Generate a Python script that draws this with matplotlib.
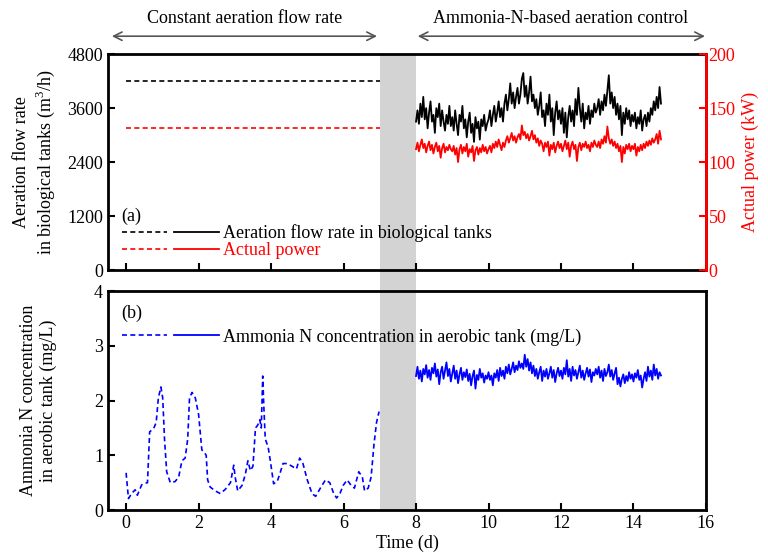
import numpy as np
import matplotlib.pyplot as plt
from matplotlib.legend_handler import HandlerTuple
from matplotlib.lines import Line2D
from matplotlib.patches import Rectangle
import matplotlib.transforms as mtransforms

plt.rcParams['font.family'] = ['Liberation Serif', 'DejaVu Serif']
plt.rcParams['mathtext.fontset'] = 'custom'
plt.rcParams['mathtext.rm'] = 'Liberation Serif'

# constant aeration period (days 0-7)
const_days = [0, 7]
const_flow = [4200, 4200]      # m3/h
const_power = [132, 132]       # kW

# ammonia-N based control period, sampled every 0.04 d from day 8
ctrl_days = np.arange(8, 14.77, 0.04)
ctrl_flow = [
    3300, 3550, 3250, 3700, 3400, 3850, 3350, 3600, 3150, 3500, 3750, 3300, 3450, 3050, 3600, 3400, 3700, 3200, 3550, 3300, 3100, 3450, 3250, 3650, 3200,
    3400, 3100, 3550, 3250, 3000, 3450, 3300, 3650, 3150, 3350, 2950, 3300, 3500, 3050, 3250, 2850, 3400, 3150, 3300, 2900, 3350, 3200, 3450, 3100, 3250,
    3350, 3550, 3200, 3450, 3650, 3300, 3500, 3750, 3400, 3600, 3300, 3700, 3900, 3550, 3800, 4150, 3700, 3950, 3600, 3850, 4050, 3700, 3900, 4250, 4380,
    3850, 4100, 3700, 3950, 4300, 3750, 3900, 3600, 3800, 3450, 3650, 3950, 3400, 3550, 3200, 3700, 3450, 3900, 3300, 3600, 3000, 3500, 3750, 3350, 3550,
    3250, 3600, 3050, 3500, 2950, 3400, 3650, 3300, 3550, 3200, 3800, 3450, 4050, 3600, 3300, 3700, 3150, 3500, 3350, 3650, 3250, 3550, 3400, 3700, 3500,
    3600, 3800, 3450, 3750, 3550, 3900, 3650, 4000, 4330, 3700, 3950, 3600, 3850, 3450, 3700, 3350, 3650, 3000, 3500, 3250, 3600, 3350, 3550, 3200, 3450,
    3300, 3500, 3150, 3400, 3250, 3550, 3100, 3350, 3450, 3200, 3500, 3300, 3600, 3450, 3750, 3550, 3850, 3600, 4070, 3700,
]
ctrl_power = [
    112, 118, 110, 116, 121, 113, 117, 109, 115, 119, 111, 116, 108, 114, 118, 110, 115, 104, 113, 117, 109, 114, 111, 116, 112,
    110, 115, 107, 113, 100, 112, 116, 108, 114, 110, 117, 105, 112, 109, 115, 101, 111, 114, 107, 113, 109, 116, 110, 114, 108,
    112, 115, 109, 117, 113, 119, 114, 121, 116, 111, 118, 114, 120, 124, 118, 122, 127, 120, 124, 118, 123, 126, 121, 134, 125,
    128, 122, 126, 120, 124, 129, 121, 125, 118, 122, 115, 120, 117, 110, 118, 114, 119, 106, 116, 112, 118, 109, 115, 119, 113,
    117, 110, 115, 120, 112, 118, 105, 115, 119, 112, 116, 101, 114, 118, 111, 117, 114, 119, 113, 116, 110, 118, 114, 120, 116,
    114, 119, 113, 121, 117, 124, 118, 133, 122, 117, 121, 115, 119, 113, 117, 110, 115, 100, 114, 108, 116, 112, 117, 110, 115,
    112, 117, 106, 114, 110, 116, 111, 117, 113, 119, 115, 120, 116, 122, 118, 121, 126, 117, 129, 121,
]
ctrl_nh4 = [
    2.45, 2.62, 2.40, 2.55, 2.35, 2.58, 2.48, 2.65, 2.42, 2.56, 2.38, 2.60, 2.50, 2.68, 2.44, 2.57, 2.30, 2.52, 2.62, 2.40, 2.55, 2.70, 2.45, 2.58, 2.35,
    2.50, 2.64, 2.40, 2.55, 2.32, 2.48, 2.60, 2.38, 2.52, 2.43, 2.57, 2.36, 2.49, 2.28, 2.45, 2.55, 2.22, 2.47, 2.38, 2.58, 2.42, 2.50, 2.33, 2.46, 2.40,
    2.52, 2.38, 2.46, 2.28, 2.50, 2.42, 2.56, 2.36, 2.60, 2.45, 2.55, 2.40, 2.62, 2.50, 2.66, 2.48, 2.58, 2.70, 2.52, 2.64, 2.56, 2.72, 2.60, 2.68, 2.58,
    2.84, 2.62, 2.76, 2.55, 2.70, 2.50, 2.64, 2.45, 2.58, 2.40, 2.52, 2.62, 2.36, 2.55, 2.44, 2.58, 2.40, 2.50, 2.62, 2.42, 2.56, 2.34, 2.50, 2.60, 2.45,
    2.55, 2.40, 2.60, 2.48, 2.74, 2.44, 2.58, 2.36, 2.62, 2.46, 2.56, 2.40, 2.52, 2.64, 2.42, 2.55, 2.38, 2.50, 2.60, 2.44, 2.57, 2.34, 2.52, 2.46, 2.58,
    2.48, 2.62, 2.42, 2.55, 2.36, 2.58, 2.45, 2.52, 2.66, 2.44, 2.56, 2.38, 2.50, 2.60, 2.30, 2.42, 2.26, 2.40, 2.48, 2.32, 2.45, 2.36, 2.52, 2.40, 2.48,
    2.35, 2.50, 2.42, 2.56, 2.38, 2.46, 2.24, 2.40, 2.52, 2.36, 2.62, 2.44, 2.55, 2.38, 2.66, 2.46, 2.58, 2.40, 2.52, 2.46,
]

# ammonia N during constant aeration
const_nh4_days = [0.0, 0.065, 0.16, 0.25, 0.31, 0.43, 0.53, 0.59, 0.65, 0.76, 0.83, 0.89, 0.96, 1.01, 1.06,
                  1.12, 1.22, 1.35, 1.45, 1.54, 1.63, 1.70, 1.75, 1.82, 1.91, 2.0, 2.09, 2.16, 2.21, 2.25,
                  2.32, 2.46, 2.6, 2.74, 2.88, 2.97, 3.01, 3.08, 3.2, 3.29, 3.36, 3.43, 3.5, 3.57, 3.63,
                  3.69, 3.73, 3.77, 3.80, 3.84, 3.92, 3.98, 4.07, 4.17, 4.26, 4.33, 4.44, 4.58, 4.70, 4.79,
                  4.88, 5.0, 5.13, 5.23, 5.36, 5.50, 5.62, 5.73, 5.81, 5.90, 5.99, 6.10, 6.21, 6.30, 6.42,
                  6.52, 6.58, 6.68, 6.76, 6.84, 6.91, 6.98]
const_nh4 = [0.68, 0.21, 0.31, 0.37, 0.27, 0.46, 0.49, 0.50, 1.43, 1.49, 1.60, 2.05, 2.25, 2.05, 1.3,
             0.7, 0.5, 0.52, 0.6, 0.9, 0.95, 1.3, 2.05, 2.15, 2.05, 1.75, 1.1, 1.05, 1.0, 0.55,
             0.42, 0.35, 0.3, 0.38, 0.5, 0.82, 0.6, 0.35, 0.45, 0.65, 0.9, 0.72, 0.8, 1.5, 1.55,
             1.65, 1.5, 2.45, 1.9, 1.3, 1.15, 0.9, 0.48, 0.52, 0.7, 0.85, 0.85, 0.8, 0.75, 0.95,
             0.85, 0.55, 0.3, 0.25, 0.4, 0.55, 0.5, 0.3, 0.22, 0.3, 0.45, 0.55, 0.45, 0.4, 0.7,
             0.6, 0.35, 0.4, 0.6, 1.2, 1.6, 1.8]

fs = 13
dash = (3, 2)

fig = plt.figure(figsize=(7.68, 5.58), dpi=100)
ax1 = fig.add_axes([0.1406, 0.516, 0.7786, 0.387])
ax3 = fig.add_axes([0.1406, 0.086, 0.7786, 0.392])
ax2 = ax1.twinx()

# gray band between the two periods, spanning both panels
trans = mtransforms.blended_transform_factory(ax1.transData, fig.transFigure)
fig.patches.append(Rectangle((7, 0.086), 1, 0.817, transform=trans,
                             facecolor='#d3d3d3', edgecolor='none', zorder=-1))
for a in (ax1, ax2, ax3):
    a.set_facecolor('none')

# (a) aeration flow and power
ax1.plot(const_days, const_flow, color='black', lw=1.2, dashes=dash)
ax1.plot(ctrl_days, ctrl_flow, color='black', lw=1.3)
ax2.plot(const_days, const_power, color='red', lw=1.2, dashes=dash)
ax2.plot(ctrl_days, ctrl_power, color='red', lw=1.3)

ax1.set_xlim(-0.5, 16)
ax1.set_ylim(0, 4800)
ax1.set_yticks([0, 1200, 2400, 3600, 4800])
ax1.set_xticks(range(0, 17, 2))
ax1.tick_params(labelbottom=False)
ax2.set_ylim(0, 200)
ax2.set_yticks([0, 50, 100, 150, 200])
ax1.set_ylabel('Aeration flow rate\nin biological tanks (m$^3$/h)', fontsize=fs)
ax1.yaxis.set_label_coords(-0.085, 0.5)
ax2.set_ylabel('Actual power (kW)', fontsize=fs, color='red')
ax2.yaxis.set_label_coords(1.06, 0.5)

for s in ('top', 'bottom', 'left'):
    ax2.spines[s].set_visible(False)
ax2.spines['right'].set_color('red')
ax2.spines['right'].set_linewidth(2)
ax2.tick_params(axis='y', direction='in', colors='red', length=5, width=1.5, labelsize=fs, pad=2)

ax1.text(0.023, 0.25, '(a)', transform=ax1.transAxes, fontsize=fs, va='center')
h1 = (Line2D([], [], color='black', lw=1.2, dashes=dash), Line2D([], [], color='black', lw=1.3))
h2 = (Line2D([], [], color='red', lw=1.2, dashes=dash), Line2D([], [], color='red', lw=1.3))
leg = ax1.legend([h1, h2], ['Aeration flow rate in biological tanks', 'Actual power'],
                 handler_map={tuple: HandlerTuple(ndivide=None, pad=0.4)},
                 loc='center left', bbox_to_anchor=(0.023, 0.13), frameon=False,
                 fontsize=fs, handlelength=5.4, handletextpad=0.2, labelspacing=0.0,
                 borderpad=0, borderaxespad=0)
leg.get_texts()[1].set_color('red')

# (b) ammonia N
ax3.plot(const_nh4_days, const_nh4, color='blue', lw=1.2, dashes=dash)
ax3.plot(ctrl_days, ctrl_nh4, color='blue', lw=1.3)
ax3.set_xlim(-0.5, 16)
ax3.set_ylim(0, 4)
ax3.set_yticks([0, 1, 2, 3, 4])
ax3.set_xticks(range(0, 17, 2))
ax3.set_xlabel('Time (d)', fontsize=fs, labelpad=2)
ax3.set_ylabel('Ammonia N concentration\nin aerobic tank (mg/L)', fontsize=fs)
ax3.yaxis.set_label_coords(-0.085, 0.5)
ax3.text(0.023, 0.90, '(b)', transform=ax3.transAxes, fontsize=fs, va='center')
h3 = (Line2D([], [], color='blue', lw=1.2, dashes=dash), Line2D([], [], color='blue', lw=1.3))
ax3.legend([h3], ['Ammonia N concentration in aerobic tank (mg/L)'],
           handler_map={tuple: HandlerTuple(ndivide=None, pad=0.4)},
           loc='center left', bbox_to_anchor=(0.023, 0.79), frameon=False,
           fontsize=fs, handlelength=5.4, handletextpad=0.2, borderpad=0, borderaxespad=0)

for a in (ax1, ax3):
    for s in ('top', 'bottom', 'left', 'right'):
        a.spines[s].set_linewidth(2)
    a.tick_params(direction='in', length=5, width=1.5, labelsize=fs, right=False, top=False)

# period annotations above panel (a)
xt = ax1.get_xaxis_transform()
arrow = dict(arrowstyle='<->,head_length=0.6,head_width=0.3', color='#555555', lw=1.2)
ax1.annotate('', xy=(-0.47, 1.083), xytext=(7.0, 1.083), xycoords=xt, textcoords=xt,
             arrowprops=arrow, annotation_clip=False)
ax1.annotate('', xy=(7.97, 1.083), xytext=(16.05, 1.083), xycoords=xt, textcoords=xt,
             arrowprops=arrow, annotation_clip=False)
ax1.text(3.26, 1.167, 'Constant aeration flow rate', transform=xt, fontsize=fs,
         ha='center', va='center')
ax1.text(12.0, 1.167, 'Ammonia-N-based aeration control', transform=xt, fontsize=fs,
         ha='center', va='center')

fig.savefig('out.png', dpi=100)
